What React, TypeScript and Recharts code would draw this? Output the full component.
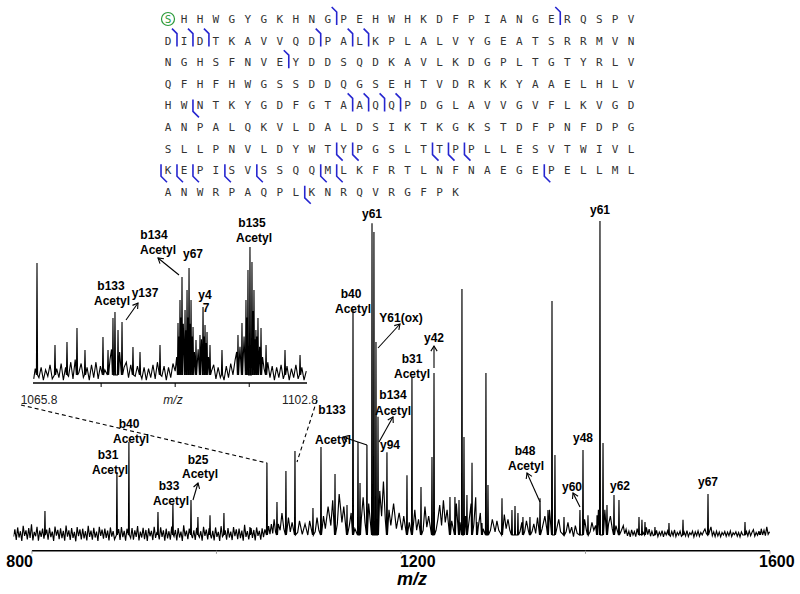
import React from 'react';
import { ComposedChart, Line, XAxis, YAxis, ReferenceLine } from 'recharts';

// main spectrum: [m/z, relative intensity %]
const mainPeaks: [number, number][] = [
  [814.1, 7.6], [892.1, 20.0], [905.1, 29.5], [936.6, 7.3], [952.8, 9.8], [972.4, 11.1],
  [979.9, 5.7], [993.0, 6.3], [1008.1, 7.0], [1036.3, 2.5], [1054.7, 22.9], [1065.6, 10.5],
  [1075.3, 20.3], [1085.1, 26.7], [1104.6, 8.6], [1113.3, 27.9], [1128.5, 19.4], [1141.5, 9.5],
  [1148.0, 71.4], [1153.4, 29.5], [1155.6, 16.5], [1163.1, 28.6], [1168.6, 99.0], [1170.7, 96.2],
  [1172.9, 61.3], [1175.1, 37.5], [1184.8, 26.3], [1206.5, 19.0], [1211.9, 50.2], [1221.7, 15.2],
  [1233.6, 24.8], [1235.8, 51.4], [1253.1, 12.1], [1258.5, 12.1], [1262.9, 11.1], [1266.1, 78.1],
  [1268.3, 31.1], [1271.5, 12.7], [1277.0, 22.9], [1282.4, 4.1], [1287.8, 3.8], [1292.1, 51.4],
  [1294.3, 15.9], [1309.5, 11.7], [1320.3, 7.9], [1323.6, 9.2], [1326.8, 7.0], [1332.2, 5.7],
  [1339.8, 5.7], [1350.7, 11.7], [1359.3, 7.9], [1363.7, 74.3], [1366.9, 25.4], [1376.7, 5.7],
  [1394.0, 7.9], [1397.3, 27.0], [1402.7, 6.3], [1412.5, 6.3], [1415.7, 99.7], [1419.0, 29.2],
  [1423.3, 9.5], [1430.9, 12.7], [1436.3, 11.1], [1458.0, 5.7], [1461.2, 4.8], [1464.5, 4.1],
  [1475.3, 2.5], [1490.5, 3.8], [1505.7, 4.8], [1532.8, 13.0], [1572.9, 4.1], [1589.2, 1.0],
];

// baseline noise / grass between the peaks
const mainNoise: [number, number][] = [
  [780, -0.5], [781.5, 1.8], [783, -1.6], [784.5, 2.4], [786, -0.8], [787.5, 1.2], [789, -1.9], [790.5, 2.9],
  [792, -0.3], [793.5, 1.5], [795, -1.4], [796.5, 2.2], [798, -0.9], [799.5, 3.4], [801, -1.7], [802.5, 1.0],
  [804, -0.4], [805.5, 2.6], [807, -1.8], [808.5, 1.4], [810, -0.6], [811.5, 2.0], [813, -1.2], [816, 1.7],
  [817.5, -1.5], [819, 2.3], [820.5, -0.7], [822, 1.1], [823.5, -1.9], [825, 2.7], [826.5, -0.2], [828, 1.6],
  [829.5, -1.3], [831, 2.1], [832.5, -1.0], [834, 1.3], [835.5, -1.8], [837, 3.0], [838.5, -0.5], [840, 1.5],
  [841.5, -1.6], [843, 2.2], [844.5, -0.9], [846, 1.0], [847.5, -2.0], [849, 2.5], [850.5, -0.4], [852, 1.8],
  [853.5, -1.4], [855, 2.0], [856.5, -1.1], [858, 1.2], [859.5, -1.7], [861, 2.9], [862.5, -0.6], [864, 1.4],
  [865.5, -1.5], [867, 2.3], [868.5, -0.8], [870, 1.1], [871.5, -1.9], [873, 2.6], [874.5, -0.3], [876, 1.7],
  [877.5, -1.2], [879, 2.0], [880.5, -0.9], [882, 1.4], [883.5, -1.7], [885, 2.4], [886.5, -0.5], [888, 1.2],
  [889.5, -1.4], [894, 1.9], [895.5, -1.6], [897, 2.5], [898.5, -0.7], [900, 1.3], [901.5, -1.8], [903, 2.0],
  [907, -1.0], [908.5, 2.2], [910, -1.5], [911.5, 1.5], [913, -0.6], [914.5, 2.8], [916, -1.7], [917.5, 1.1],
  [919, -0.8], [920.5, 2.3], [922, -1.3], [923.5, 1.6], [925, -1.9], [926.5, 2.1], [928, -0.4], [929.5, 1.3],
  [931, -1.6], [932.5, 2.6], [934, -0.9], [935.5, 1.0], [938, -1.4], [939.5, 2.4], [941, -0.6], [942.5, 1.5],
  [944, -1.8], [945.5, 2.0], [947, -1.1], [948.5, 1.2], [950, -1.5], [951.5, 2.7], [954, -0.5], [955.5, 1.6],
  [957, -1.7], [958.5, 2.2], [960, -0.8], [961.5, 1.1], [963, -1.9], [964.5, 3.1], [966, -0.4], [967.5, 1.4],
  [969, -1.3], [970.5, 2.0], [974, -1.0], [975.5, 1.5], [977, -1.6], [978.5, 2.3], [981.5, -0.7], [983, 1.2],
  [984.5, -1.8], [986, 2.6], [987.5, -0.3], [989, 1.7], [990.5, -1.4], [992, 2.1], [994.5, -1.1], [996, 1.3],
  [997.5, -1.7], [999, 2.4], [1000.5, -0.6], [1002, 1.0], [1003.5, -1.9], [1005, 2.8], [1006.5, -0.5], [1009.5, 1.5],
  [1011, -1.5], [1012.5, 2.2], [1014, -0.8], [1015.5, 1.1], [1017, -1.6], [1018.5, 2.5], [1020, -0.4], [1021.5, 1.8],
  [1023, -1.3], [1024.5, 2.0], [1026, -1.0], [1027.5, 1.4], [1029, -1.8], [1030.5, 3.2], [1032, -0.6], [1033.5, 1.2],
  [1035, -1.4], [1037.5, 2.2], [1039, -0.9], [1040.5, 1.6], [1042, -1.7], [1043.5, 2.4], [1045, -0.3], [1046.5, 1.3],
  [1048, -1.5], [1049.5, 2.1], [1051, -0.7], [1052.5, 1.8], [1056.5, 2.8], [1058, 0.3], [1059.5, 3.5], [1061, 0.5],
  [1062.5, 5.0], [1064, 1.0], [1067, 3.5], [1069, 1.5], [1071, 7.0], [1073, 2.0], [1078, 5.5], [1080, 1.0],
  [1082, 4.0], [1088, 0.8], [1090, 4.5], [1093, 0.2], [1096, 3.5], [1099, 0.0], [1101, 4.5], [1107, 1.0],
  [1109, 5.5], [1111, 1.5], [1116, 6.0], [1118, 2.0], [1121, 9.0], [1124, 3.0], [1126, 11.0], [1131, 3.5],
  [1133, 13.0], [1136, 4.0], [1138, 9.0], [1144, 3.0], [1146, 7.0], [1150, 2.0], [1157, 5.0], [1159, 12.0],
  [1161, 4.0], [1165, 10.0], [1177, 14.0], [1179, 6.0], [1181, 17.0], [1183, 5.0], [1187, 8.0], [1189, 3.0],
  [1192, 10.0], [1195, 2.0], [1198, 7.0], [1201, 1.5], [1203, 6.0], [1205, 2.0], [1209, 4.0], [1215, 8.0],
  [1217, 1.5], [1219, 5.0], [1224, 1.5], [1226, 9.0], [1228, 2.5], [1230, 6.0], [1238, 1.5], [1240, 5.0],
  [1242, 9.5], [1244, 3.0], [1246, 11.0], [1248, 4.0], [1250, 8.0], [1255, 4.5], [1260, 10.0], [1264, 4.0],
  [1270, 6.0], [1274, 5.0], [1276, 10.0], [1279, 3.5], [1281, 12.0], [1284, 3.0], [1286, 7.0], [1289, 2.0],
  [1297, 1.5], [1299, 5.0], [1302, 1.0], [1304, 4.5], [1306, 1.5], [1312, 6.5], [1314, 2.0], [1316, 5.0],
  [1318, 1.5], [1329, 1.0], [1331, 4.0], [1334, 1.0], [1336, 4.5], [1338, 1.5], [1342, 1.0], [1344, 3.5],
  [1346, 0.5], [1348, 5.5], [1353, 2.0], [1356, 6.0], [1358, 2.0], [1361, 8.0], [1371, 5.0], [1373, 1.0],
  [1379, 1.0], [1381, 4.0], [1383, 0.5], [1385, 2.5], [1387, -0.5], [1389, 3.0], [1391, 0.5], [1399, 5.0],
  [1401, 1.5], [1405, 1.0], [1407, 4.0], [1409, 1.5], [1411, 3.0], [1414, 8.0], [1421, 8.0], [1425, 3.5],
  [1427, 6.0], [1429, 2.0], [1433, 3.0], [1439, 1.5], [1441, 3.0], [1442.5, 0.4], [1444, 1.8], [1445.5, -0.3],
  [1447, 1.2], [1448.5, -0.6], [1450, 1.6], [1451.5, 0.0], [1453, 1.1], [1454.5, -0.5], [1456, 2.0], [1459.5, 0.2],
  [1462.5, 0.8], [1466, 2.4], [1467.5, 0.1], [1469, 1.9], [1470.5, -0.4], [1472, 1.2], [1473.5, -0.2], [1477, 1.5],
  [1478.5, -0.5], [1480, 0.9], [1481.5, -0.1], [1483, 1.4], [1484.5, -0.6], [1486, 1.0], [1487.5, 0.0], [1489, 1.3],
  [1492, -0.4], [1493.5, 1.1], [1495, -0.2], [1496.5, 1.6], [1498, -0.5], [1499.5, 0.8], [1501, 0.0], [1502.5, 1.2],
  [1504, -0.4], [1507, 0.9], [1508.5, -0.3], [1510, 1.4], [1511.5, -0.5], [1513, 0.7], [1514.5, 0.1], [1516, 1.2],
  [1517.5, -0.6], [1519, 1.0], [1520.5, -0.2], [1522, 1.3], [1523.5, -0.4], [1525, 0.8], [1526.5, 0.0], [1528, 1.1],
  [1529.5, 1.9], [1531, 0.5], [1534.5, 1.2], [1536, 2.6], [1537.5, -0.2], [1539, 1.0], [1540.5, -0.5], [1542, 1.2],
  [1543.5, -0.3], [1545, 0.9], [1546.5, -0.6], [1548, 0.8], [1549.5, 0.0], [1551, 1.1], [1552.5, -0.4], [1554, 0.9],
  [1555.5, -0.2], [1557, 1.3], [1558.5, -0.5], [1560, 0.7], [1561.5, 0.1], [1563, 1.0], [1564.5, -0.4], [1566, 0.8],
  [1567.5, -0.6], [1569, 1.0], [1570.5, 0.0], [1574.5, 1.1], [1576, -0.3], [1577.5, 1.3], [1579, -0.2], [1580.5, 0.9],
  [1582, 1.7], [1583.5, -0.4], [1585, 0.8], [1586.5, -0.1], [1588, 1.2], [1590.5, 2.0], [1592, 0.0], [1593.5, 1.5],
  [1595, -0.2], [1596.5, 2.6], [1598, 0.2], [1599.5, 1.0],
];

// zoomed inset 1065.8 - 1102.8
const insetPeaks: [number, number][] = [
  [1066.34, 87.5], [1068.77, 23.4], [1070.39, 25.8], [1071.74, 36.7], [1072.82, 19.5], [1075.25, 29.7],
  [1075.93, 19.5], [1076.6, 44.5], [1076.87, 49.2], [1077.28, 35.2], [1077.82, 41.4], [1079.3, 21.9],
  [1080.25, 18.0], [1082.95, 23.4], [1085.38, 40.6], [1085.65, 58.6], [1085.92, 76.6], [1086.33, 50.8],
  [1086.6, 66.4], [1086.87, 83.6], [1087.14, 58.6], [1087.41, 37.5], [1087.81, 27.3], [1088.35, 31.3],
  [1088.76, 53.1], [1089.03, 39.0], [1089.3, 33.6], [1089.7, 23.4], [1091.32, 19.5], [1093.48, 31.3],
  [1094.02, 40.6], [1094.56, 58.6], [1094.83, 82.0], [1095.1, 100], [1095.37, 88.3], [1095.64, 66.4],
  [1095.9, 35.2], [1096.18, 44.5], [1096.59, 36.7], [1097.27, 23.4], [1099.83, 19.5], [1101.86, 15.6],
];

const insetNoise: [number, number][] = [
  [1065.9, -3], [1066.1, 5], [1066.6, -2], [1066.9, 6], [1067.2, -4], [1067.5, 4], [1067.8, -1], [1068.1, 8],
  [1068.4, -3], [1069.0, 5], [1069.3, -2], [1069.6, 9], [1069.9, -4], [1070.2, 6], [1070.6, -1], [1070.9, 10],
  [1071.2, -3], [1071.5, 12], [1072.0, 2], [1072.3, 9], [1072.6, -2], [1073.1, 6], [1073.4, -4], [1073.7, 8],
  [1074.0, -2], [1074.3, 10], [1074.6, -3], [1074.9, 7], [1075.5, 4], [1076.2, 12], [1076.4, 20], [1077.5, 18],
  [1078.1, 6], [1078.4, 10], [1078.7, -2], [1079.0, 8], [1079.6, -1], [1079.9, 7], [1080.5, -3], [1080.8, 6],
  [1081.1, -4], [1081.4, 5], [1081.7, -2], [1082.0, 8], [1082.3, -3], [1082.6, 10], [1083.2, -1], [1083.5, 7],
  [1083.8, -4], [1084.1, 6], [1084.4, -2], [1084.7, 9], [1085.0, 3], [1085.2, 14], [1085.5, 30], [1085.8, 45],
  [1086.1, 40], [1086.45, 35], [1086.75, 45], [1087.0, 40], [1087.3, 30], [1087.6, 18], [1088.1, 20], [1088.55, 28],
  [1088.9, 30], [1089.15, 25], [1089.5, 14], [1089.9, 3], [1090.2, 8], [1090.5, -3], [1090.8, 6], [1091.1, -2],
  [1091.6, -4], [1091.9, 7], [1092.2, -2], [1092.5, 9], [1092.8, 0], [1093.1, 12], [1093.3, 18], [1093.75, 22],
  [1094.3, 30], [1094.7, 45], [1095.5, 50], [1095.78, 28], [1096.05, 30], [1096.4, 22], [1096.8, 14], [1097.0, 5],
  [1097.5, 10], [1097.8, -2], [1098.1, 7], [1098.4, -4], [1098.7, 6], [1099.0, -2], [1099.3, 8], [1099.6, -3],
  [1100.1, 7], [1100.4, -4], [1100.7, 5], [1101.0, -2], [1101.3, 8], [1101.6, -3], [1102.1, 6], [1102.4, -4],
  [1102.7, 3],
];

const mainTicks = [800, 1000, 1200, 1400, 1600];
const insetTicks = [1065.8, 1075, 1085, 1095, 1102.8];

const sequenceRows = [
  'SHHWGYGKHNGPEHWHKDFPIANGERQSPV',
  'DIDTKAVVQDPALKPLALVYGEATSRRMVN',
  'NGHSFNVEYDDSQDKAVLKDGPLTGTYRLV',
  'QFHFHWGSSDDQGSEHTVDRKKYAAELHLV',
  'HWNTKYGDFGTAAQQPDGLAVVGVFLKVGD',
  'ANPALQKVLDALDSIKTKGKSTDFPNFDPG',
  'SLLPNVLDYWTYPGSLTTPPLLESVTWIVL',
  'KEPISVSSQQMLKFRTLNFNAEGEPELLML',
  'ANWRPAQPLKNRQVRGFPK',
];
// cleavage marks [row, column before which the mark sits]
const bMarks: [number, number][] = [
  [0, 11], [0, 25], [1, 1], [1, 2], [1, 3], [1, 10], [1, 12], [1, 13], [2, 8],
  [4, 12], [4, 13], [4, 14], [4, 15],
];
const yMarks: [number, number][] = [
  [4, 2], [6, 11], [6, 12], [6, 17], [6, 18], [6, 19],
  [7, 0], [7, 1], [7, 2], [7, 4], [7, 6], [7, 10], [7, 11], [7, 24], [8, 9],
];

// ion labels: [text, centre x, centre y]
const mainLabels: [string, number, number][] = [
  ['y61', 372, 213], ['b40', 351, 293], ['Acetyl', 353, 308], ['Y61(ox)', 401, 317],
  ['y42', 434, 337], ['b31', 412, 358], ['Acetyl', 412, 373], ['b134', 393, 394], ['Acetyl', 393, 410],
  ['b133', 332, 409], ['Acetyl', 333, 439], ['y94', 390, 444],
  ['b40', 129, 423], ['Acetyl', 131, 438], ['b31', 108, 454], ['Acetyl', 110, 469],
  ['b25', 198, 459], ['Acetyl', 200, 473], ['b33', 169, 485], ['Acetyl', 171, 500],
  ['b48', 525, 450], ['Acetyl', 526, 465], ['y48', 583, 437], ['y60', 572, 486],
  ['y62', 620, 485], ['y67', 708, 481], ['y61', 600, 209],
  ['b135', 252, 222], ['Acetyl', 254, 237], ['b134', 154, 234], ['Acetyl', 158, 249],
  ['y67', 193, 253], ['y4', 205, 294], ['7', 206, 307], ['b133', 111, 285], ['Acetyl', 112, 300],
  ['y137', 145, 292],
];
const arrows: [number, number, number, number][] = [
  [378, 348, 400, 324], [434, 368, 434, 346], [379, 442, 393, 417], [367, 445, 343, 437],
  [193, 500, 198, 483], [540, 502, 527, 473], [580, 507, 573, 493],
  [179, 275, 158, 258], [126, 320, 138, 303],
];

const buildTrace = (peaks: [number, number][], noise: [number, number][], foot: number) => {
  const pts = noise.map(([mz, i]) => ({ mz, i }));
  peaks.forEach(([mz, h]) => {
    pts.push({ mz: mz - foot, i: 0 }, { mz, i: h }, { mz: mz + foot, i: 0 });
  });
  return pts.sort((a, b) => a.mz - b.mz);
};

const mainTrace = buildTrace(mainPeaks, mainNoise, 0.5);
const insetTrace = buildTrace(insetPeaks, insetNoise, 0.08);

const FONT = '"Liberation Sans", Arial, sans-serif';

const MainTick = (props: any) => {
  const { x, y, payload } = props;
  const v = payload.value;
  const dx = v === 800 ? 1 : v === 1200 ? -1 : -11;
  return (
    <g>
      <line x1={x} x2={x} y1={y} y2={y + 3} stroke="#999" />
      {v % 400 === 0 && (
        <text x={x + dx} y={y + 16.5} textAnchor={v === 800 ? 'end' : 'start'} fontFamily={FONT}
          fontWeight="bold" fontSize={16} fill="#000">{v}</text>
      )}
    </g>
  );
};

const InsetTick = (props: any) => {
  const { x, y, payload, index } = props;
  const end = index === 0 || index === insetTicks.length - 1;
  return (
    <g>
      {!end && <line x1={x} x2={x} y1={y} y2={y + 4} stroke="#000" />}
      {end && (
        <text x={x + (index === 0 ? 6 : -7)} y={y + 21} textAnchor="middle" fontFamily={FONT}
          fontSize={12} fill="#222">{payload.value}</text>
      )}
    </g>
  );
};

const Arrow = ({ a }: { a: [number, number, number, number] }) => {
  const [x1, y1, x2, y2] = a;
  const ang = Math.atan2(y2 - y1, x2 - x1);
  const p1 = [x2 - 6 * Math.cos(ang - 0.55), y2 - 6 * Math.sin(ang - 0.55)];
  const p2 = [x2 - 6 * Math.cos(ang + 0.55), y2 - 6 * Math.sin(ang + 0.55)];
  return (
    <g stroke="#000" strokeWidth={1.1} fill="none">
      <line x1={x1} y1={y1} x2={x2} y2={y2} />
      <polyline points={`${p1[0]},${p1[1]} ${x2},${y2} ${p2[0]},${p2[1]}`} />
    </g>
  );
};

const seqX = (c: number) => 168 + 15.97 * c;
const seqY = (r: number) => 19 + 21.6 * r;

export default function App() {
  return (
    <div style={{ position: 'absolute', left: 0, top: 0, width: 800, height: 594, background: '#fff' }}>
      <div style={{ position: 'absolute', left: 0, top: 0 }}>
        <ComposedChart width={800} height={594} data={mainTrace}
          margin={{ top: 194.8, right: 30, bottom: 0, left: 13.5 }}>
          <XAxis dataKey="mz" type="number" domain={[780, 1600]} allowDataOverflow ticks={mainTicks}
            interval={0} axisLine={false} tickLine={false} tickSize={0} tickMargin={0} height={43.25}
            tick={<MainTick />} />
          <YAxis type="number" domain={[-5, 108]} allowDataOverflow hide />
          <ReferenceLine segment={[{ x: 800, y: -5 }, { x: 1600, y: -5 }]} stroke="#000" strokeWidth={1.6} />
          <Line dataKey="i" type="linear" dot={false} stroke="#000" strokeWidth={1.15} isAnimationActive={false} />
        </ComposedChart>
      </div>
      <div style={{ position: 'absolute', left: 0, top: 0 }}>
        <ComposedChart width={320} height={420} data={insetTrace}
          margin={{ top: 234.2, right: 13, bottom: 0, left: 33 }}>
          <XAxis dataKey="mz" type="number" domain={[1065.8, 1102.8]} allowDataOverflow ticks={insetTicks}
            interval={0} axisLine={{ stroke: '#000', strokeWidth: 1.5 }} tickLine={false} tickSize={0}
            tickMargin={0} height={37} tick={<InsetTick />} />
          <YAxis type="number" domain={[-6.25, 110]} allowDataOverflow hide />
          <Line dataKey="i" type="linear" dot={false} stroke="#000" strokeWidth={1.1} isAnimationActive={false} />
        </ComposedChart>
      </div>
      <svg width={800} height={594} style={{ position: 'absolute', left: 0, top: 0, pointerEvents: 'none' }}>
        {/* peptide sequence */}
        {sequenceRows.map((row, r) =>
          row.split('').map((ch, c) => (
            <text key={`s${r}-${c}`} x={seqX(c)} y={seqY(r) + 4} textAnchor="middle"
              fontFamily='"DejaVu Sans Mono", monospace' fontSize={11}
              fill={r === 0 && c === 0 ? '#2a9a3a' : '#333'}>{ch}</text>
          ))
        )}
        <circle cx={seqX(0)} cy={seqY(0)} r={6.5} fill="none" stroke="#2a9a3a" strokeWidth={1.2} />
        {bMarks.map(([r, c], k) => {
          const x = seqX(c - 0.5) + 1;
          const y = seqY(r);
          return <polyline key={`b${k}`} points={`${x - 5},${y - 12} ${x},${y - 7} ${x},${y + 6}`}
            fill="none" stroke="#2626d0" strokeWidth={1.6} />;
        })}
        {yMarks.map(([r, c], k) => {
          const x = seqX(c - 0.5) + 1;
          const y = seqY(r);
          return <polyline key={`y${k}`} points={`${x},${y - 6} ${x},${y + 6} ${x + 6},${y + 12}`}
            fill="none" stroke="#2626d0" strokeWidth={1.6} />;
        })}

        {/* zoom guides */}
        <line x1={21} y1={405} x2={267} y2={463} stroke="#000" strokeWidth={1.1} strokeDasharray="4 3" />
        <line x1={317} y1={400} x2={297} y2={462} stroke="#000" strokeWidth={1.1} strokeDasharray="4 3" />

        {mainLabels.map(([t, x, y], k) => (
          <text key={`l${k}`} x={x} y={y + 4.5} textAnchor="middle" fontFamily={FONT} fontWeight="bold"
            fontSize={12} fill="#000">{t}</text>
        ))}
        {arrows.map((a, k) => <Arrow key={`a${k}`} a={a} />)}

        <text x={173} y={404} textAnchor="middle" fontFamily={FONT} fontStyle="italic" fontSize={12}
          fill="#222">m/z</text>
        <text x={412} y={585} textAnchor="middle" fontFamily={FONT} fontStyle="italic" fontWeight="bold"
          fontSize={18} fill="#000">m/z</text>
      </svg>
    </div>
  );
}
